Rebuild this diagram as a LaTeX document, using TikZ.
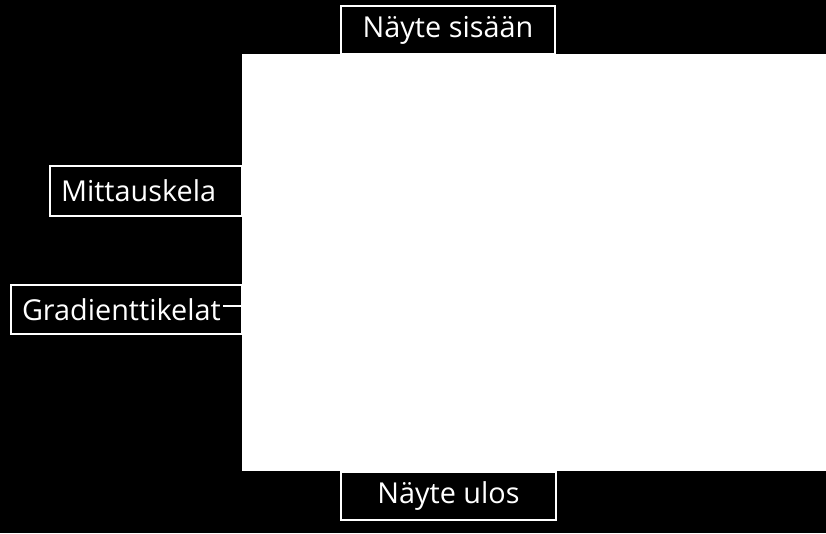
\documentclass[tikz,border=0pt]{standalone}
\usepackage{fontspec}
\setmainfont{Open Sans}
\begin{document}
\begin{tikzpicture}[x=1pt,y=-1pt,
  lbl/.style={draw=white,line width=2pt,fill=black,text=white,font=\fontsize{28.8}{32}\selectfont,inner sep=0pt,anchor=north west},
  wire/.style={draw=white,line width=2pt}]
\fill[black] (0,0) rectangle (826,533);
\useasboundingbox (0,0) rectangle (826,533);
\node[fill=white,minimum width=584pt,minimum height=417pt,inner sep=0pt,anchor=north west] (coil) at (242,53.5) {};
\node[lbl,minimum width=214pt,minimum height=48pt] (in) at (340,5) {Näyte sisään};
\node[lbl,minimum width=215pt,minimum height=48pt] (out) at (340,471) {Näyte ulos};
\node[lbl,minimum width=192pt,minimum height=50pt,text width=170pt,align=left,inner xsep=11pt] (mk) at (49,165) {Mittauskela};
\node[lbl,minimum width=231pt,minimum height=49pt,text width=209pt,align=left,inner xsep=11pt] (gk) at (10,284) {Gradienttikelat};
\coordinate (gkend) at (223,306);
\draw[wire] (gkend) -- (gkend -| coil.west);
\end{tikzpicture}
\end{document}
